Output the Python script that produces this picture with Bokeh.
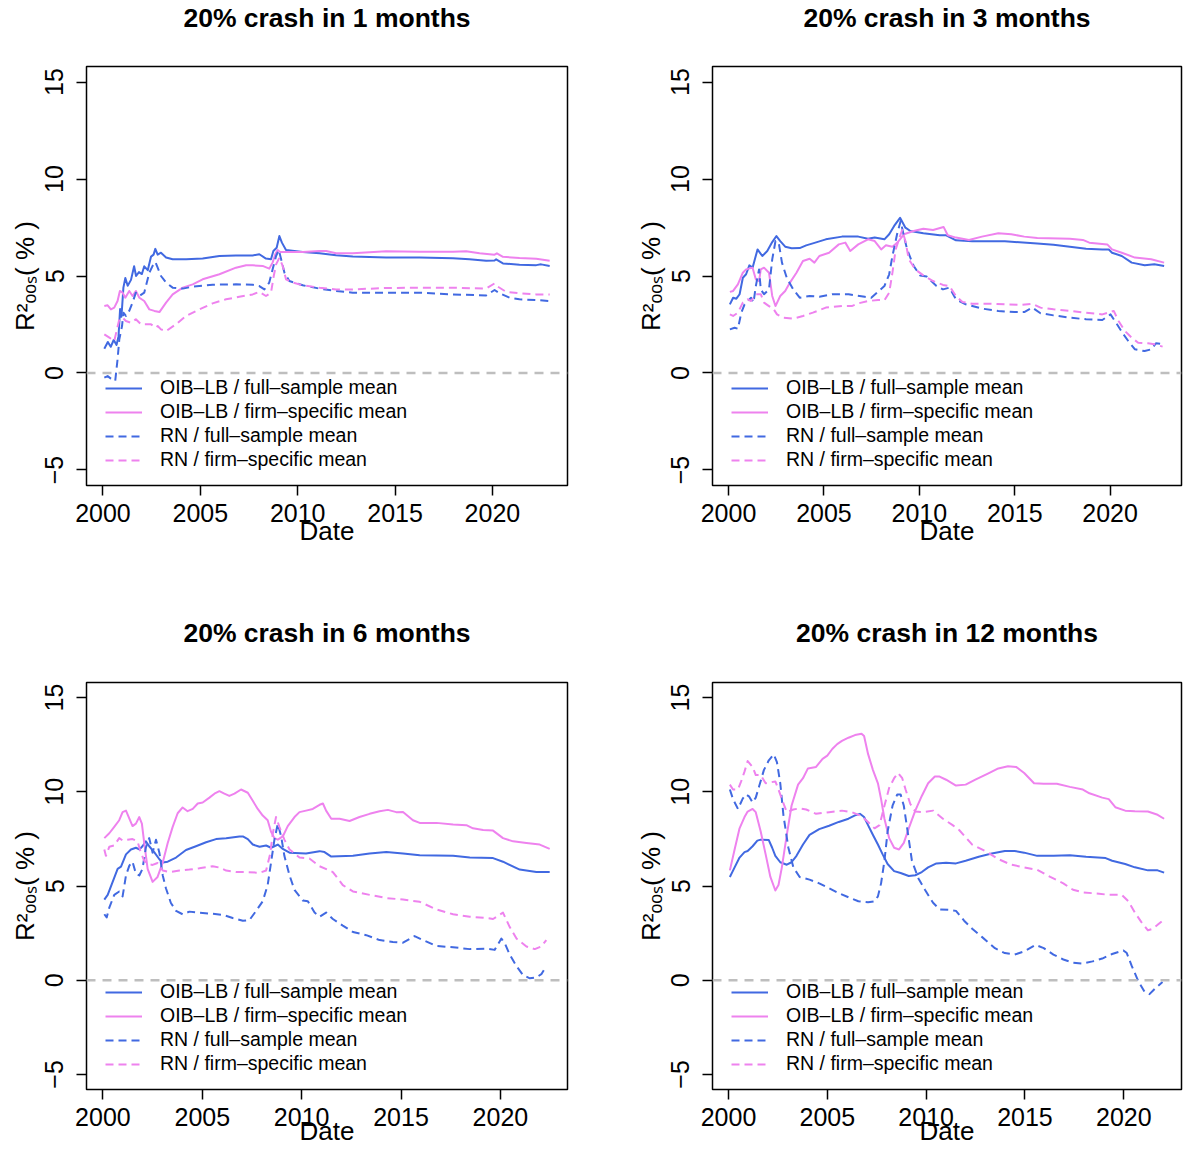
import numpy as np
from bokeh.plotting import figure
from bokeh.models import Range1d, FixedTicker, Span, Legend, LegendItem, Title
from bokeh.layouts import column, row
from bokeh.embed import file_html
from bokeh.resources import INLINE

BLUE = "#4169E1"
PINK = "#EE82EE"
FONT = "Liberation Sans"

titles = ["20% crash in 1 months", "20% crash in 3 months",
          "20% crash in 6 months", "20% crash in 12 months"]
legend_labels = ["OIB\u2013LB / full\u2013sample mean", "OIB\u2013LB / firm\u2013specific mean",
                 "RN / full\u2013sample mean", "RN / firm\u2013specific mean"]
x_label = "Date"
y_label = "R\u00b2\u2092\u2092\u209b( % )"
x_ticks = [2000, 2005, 2010, 2015, 2020]
y_ticks = [-5, 0, 5, 10, 15]
y_limits = [-5, 15]

# ---------------- 1 month ----------------
m1_oib_full = [(2000.07,1.25),(2000.25,1.6),(2000.4,1.35),(2000.55,1.7),(2000.7,1.45),(2000.8,1.9),(2000.88,3.3),(2000.95,2.9),(2001.05,4.4),(2001.15,4.9),(2001.27,4.5),(2001.44,4.8),(2001.6,5.5),(2001.7,5.0),(2001.85,5.2),(2002.0,5.1),(2002.12,5.5),(2002.3,5.3),(2002.47,6.0),(2002.6,6.1),(2002.69,6.4),(2002.81,6.1),(2002.98,6.2),(2003.24,5.95),(2003.58,5.86),(2004.27,5.86),(2005.12,5.9),(2005.98,6.03),(2006.83,6.06),(2007.69,6.06),(2008.03,6.12),(2008.37,5.9),(2008.63,5.86),(2008.75,6.29),(2008.92,6.46),(2009.06,7.06),(2009.19,6.72),(2009.4,6.34),(2010.26,6.24),(2011.12,6.17),(2011.97,6.07),(2012.83,6.0),(2014.54,5.95),(2016.25,5.95),(2017.97,5.91),(2018.82,5.86),(2019.68,5.79),(2020.11,5.8),(2020.19,5.86),(2020.54,5.65),(2021.39,5.58),(2022.25,5.56),(2022.5,5.6),(2022.94,5.52)]
m1_oib_firm = [(2000.07,3.45),(2000.24,3.49),(2000.41,3.28),(2000.58,3.37),(2000.75,3.71),(2000.87,4.23),(2001.01,4.14),(2001.15,3.88),(2001.35,4.23),(2001.52,3.97),(2001.69,4.23),(2001.87,3.88),(2002.12,3.71),(2002.38,3.28),(2002.64,3.20),(2002.9,3.14),(2003.24,3.63),(2003.58,4.05),(2004.1,4.40),(2004.61,4.57),(2005.12,4.83),(2005.98,5.09),(2006.83,5.43),(2007.35,5.55),(2007.69,5.55),(2008.2,5.52),(2008.54,5.38),(2008.71,5.69),(2008.85,6.12),(2008.97,6.34),(2009.1,6.24),(2009.23,6.24),(2010.26,6.24),(2011.12,6.29),(2011.46,6.29),(2011.97,6.17),(2012.83,6.17),(2014.54,6.27),(2016.25,6.25),(2017.97,6.25),(2018.65,6.27),(2019.34,6.17),(2020.11,6.10),(2020.23,6.17),(2020.54,5.99),(2021.39,5.93),(2022.25,5.89),(2022.94,5.79)]
m1_rn_full = [(2000.07,-0.24),(2000.24,-0.16),(2000.41,-0.29),(2000.63,-0.41),(2000.75,0.70),(2000.84,1.74),(2000.98,2.42),(2001.05,3.11),(2001.18,2.94),(2001.35,3.20),(2001.52,3.63),(2001.69,4.14),(2001.87,3.97),(2002.12,4.14),(2002.38,5.17),(2002.55,5.52),(2002.69,5.72),(2002.81,5.43),(2002.98,5.0),(2003.24,4.66),(2003.58,4.40),(2004.1,4.35),(2004.61,4.45),(2005.63,4.55),(2006.83,4.57),(2007.69,4.55),(2008.03,4.48),(2008.29,4.31),(2008.54,4.66),(2008.71,5.34),(2008.89,6.03),(2009.03,6.34),(2009.15,5.86),(2009.32,5.17),(2009.57,4.74),(2010.26,4.52),(2011.12,4.35),(2011.97,4.23),(2012.83,4.14),(2014.54,4.14),(2016.25,4.14),(2017.97,4.05),(2019.68,4.0),(2020.11,4.28),(2020.37,4.11),(2020.88,3.88),(2021.39,3.80),(2022.25,3.76),(2022.94,3.71)]
m1_rn_firm = [(2000.07,1.99),(2000.33,1.82),(2000.58,1.65),(2000.84,2.77),(2001.01,2.85),(2001.18,2.68),(2001.44,2.59),(2001.69,2.77),(2001.95,2.51),(2002.21,2.51),(2002.47,2.51),(2002.72,2.34),(2002.81,2.42),(2002.98,2.25),(2003.24,2.16),(2003.75,2.51),(2004.27,2.94),(2004.95,3.28),(2005.63,3.59),(2006.32,3.80),(2007.0,3.93),(2007.69,4.05),(2008.03,4.18),(2008.37,3.97),(2008.63,4.14),(2008.77,5.0),(2008.89,5.6),(2009.06,5.94),(2009.23,5.52),(2009.4,4.83),(2009.75,4.66),(2010.26,4.52),(2011.12,4.40),(2011.97,4.31),(2012.83,4.31),(2014.54,4.38),(2016.25,4.40),(2017.97,4.40),(2019.68,4.35),(2020.11,4.62),(2020.28,4.45),(2020.71,4.18),(2021.39,4.11),(2022.25,4.05),(2022.94,4.04)]

# ---------------- 3 months ----------------
m3_oib_full = [(2000.07,3.54),(2000.24,3.88),(2000.41,3.83),(2000.58,4.06),(2000.75,4.91),(2000.92,5.09),(2001.09,5.55),(2001.26,5.43),(2001.52,6.37),(2001.77,6.03),(2002.03,6.29),(2002.29,6.75),(2002.51,7.06),(2002.71,6.80),(2002.97,6.51),(2003.31,6.43),(2003.73,6.44),(2004.07,6.58),(2004.42,6.68),(2005.1,6.89),(2005.95,7.03),(2006.8,7.03),(2007.31,6.92),(2007.66,6.98),(2008.17,6.89),(2008.42,7.15),(2008.68,7.58),(2008.99,8.0),(2009.27,7.49),(2009.53,7.32),(2010.21,7.20),(2011.07,7.10),(2011.41,7.10),(2011.92,6.84),(2012.77,6.79),(2014.48,6.79),(2016.18,6.68),(2017.03,6.61),(2017.89,6.51),(2018.74,6.41),(2019.59,6.37),(2019.93,6.37),(2020.1,6.20),(2020.61,6.03),(2021.13,5.69),(2021.81,5.55),(2022.32,5.60),(2022.83,5.52)]
m3_oib_firm = [(2000.07,4.18),(2000.24,4.23),(2000.49,4.57),(2000.75,5.17),(2000.92,5.34),(2001.26,5.43),(2001.43,4.83),(2001.6,4.74),(2001.69,5.34),(2001.86,5.43),(2002.12,5.17),(2002.29,3.97),(2002.46,3.45),(2002.71,3.97),(2002.97,4.23),(2003.22,4.66),(2003.56,5.17),(2003.9,5.77),(2004.25,5.89),(2004.5,5.69),(2004.76,6.03),(2005.27,6.20),(2005.78,6.63),(2006.12,6.72),(2006.38,6.29),(2006.8,6.63),(2007.31,6.89),(2007.66,6.80),(2008.0,6.37),(2008.25,6.58),(2008.59,6.51),(2008.85,6.72),(2009.19,7.15),(2009.7,7.32),(2010.21,7.44),(2010.72,7.37),(2011.27,7.53),(2011.49,7.10),(2011.92,6.98),(2012.6,6.86),(2013.28,7.03),(2014.14,7.20),(2014.82,7.15),(2015.5,7.03),(2016.18,6.96),(2017.89,6.92),(2018.57,6.86),(2018.91,6.72),(2019.85,6.63),(2020.1,6.37),(2020.61,6.20),(2021.3,5.95),(2022.15,5.86),(2022.83,5.69)]
m3_rn_full = [(2000.07,2.25),(2000.32,2.33),(2000.49,2.28),(2000.67,3.11),(2000.84,3.54),(2001.01,3.71),(2001.18,3.88),(2001.31,3.63),(2001.43,4.48),(2001.6,5.34),(2001.69,4.31),(2001.86,4.06),(2002.12,4.31),(2002.29,5.86),(2002.46,6.80),(2002.63,6.72),(2002.8,5.69),(2003.05,4.91),(2003.39,4.31),(2003.73,3.88),(2004.25,3.97),(2004.76,3.93),(2005.44,4.06),(2006.29,4.06),(2007.14,3.93),(2007.48,3.88),(2007.83,4.18),(2008.17,4.48),(2008.42,5.09),(2008.59,6.03),(2008.85,7.23),(2009.02,7.83),(2009.19,7.06),(2009.36,6.37),(2009.7,5.52),(2010.04,5.03),(2010.38,4.97),(2010.9,4.48),(2011.24,4.31),(2011.58,4.40),(2011.92,3.80),(2012.43,3.54),(2013.28,3.32),(2014.14,3.20),(2014.99,3.14),(2015.5,3.14),(2015.92,3.37),(2016.35,3.08),(2017.03,2.97),(2017.89,2.85),(2018.74,2.77),(2019.59,2.73),(2020.02,3.02),(2020.36,2.51),(2020.7,1.99),(2020.95,1.65),(2021.3,1.22),(2021.81,1.13),(2022.15,1.22),(2022.4,1.53),(2022.83,1.48)]
m3_rn_firm = [(2000.07,3.02),(2000.24,2.94),(2000.49,3.11),(2000.75,3.63),(2001.01,3.80),(2001.18,3.71),(2001.43,4.06),(2001.69,4.06),(2001.86,3.63),(2002.12,3.45),(2002.37,3.28),(2002.54,3.02),(2002.88,2.85),(2003.39,2.80),(2003.9,2.94),(2004.42,3.11),(2005.1,3.37),(2005.95,3.45),(2006.46,3.45),(2006.8,3.59),(2007.31,3.71),(2007.83,3.76),(2008.17,3.75),(2008.42,4.14),(2008.59,5.17),(2008.76,6.37),(2008.93,6.89),(2009.1,7.37),(2009.27,6.80),(2009.45,5.86),(2009.79,5.34),(2010.21,5.03),(2010.72,4.74),(2011.24,4.54),(2011.58,4.48),(2011.92,3.97),(2012.26,3.66),(2012.77,3.57),(2013.62,3.57),(2014.48,3.54),(2015.33,3.51),(2015.92,3.57),(2016.35,3.37),(2017.03,3.28),(2017.89,3.20),(2018.74,3.11),(2019.59,3.02),(2020.19,3.20),(2020.44,2.68),(2020.78,2.16),(2021.13,1.82),(2021.47,1.56),(2021.98,1.53),(2022.32,1.48),(2022.75,1.36)]

# ---------------- 6 months ----------------
m6_oib_full = [(2000.07,4.28),(2000.24,4.53),(2000.49,5.22),(2000.74,5.91),(2000.91,6.03),(2001.16,6.68),(2001.41,6.94),(2001.66,7.03),(2001.83,6.94),(2001.99,7.11),(2002.16,7.37),(2002.33,7.11),(2002.58,6.80),(2002.84,6.42),(2003.01,6.25),(2003.26,6.29),(2003.68,6.51),(2004.18,6.91),(2004.68,7.11),(2005.19,7.32),(2005.69,7.49),(2006.2,7.54),(2006.87,7.63),(2007.04,7.63),(2007.29,7.49),(2007.54,7.20),(2007.88,7.08),(2008.21,7.15),(2008.46,7.03),(2008.63,7.11),(2008.8,7.20),(2009.05,6.97),(2009.39,6.77),(2010.22,6.73),(2010.9,6.85),(2011.15,6.80),(2011.49,6.56),(2012.58,6.60),(2013.42,6.73),(2014.26,6.80),(2015.1,6.73),(2015.94,6.63),(2017.62,6.60),(2018.46,6.51),(2019.63,6.48),(2020.13,6.29),(2020.97,5.87),(2021.81,5.74),(2022.48,5.74)]
m6_oib_firm = [(2000.07,7.54),(2000.32,7.80),(2000.57,8.14),(2000.82,8.49),(2000.99,8.92),(2001.16,9.0),(2001.33,8.57),(2001.49,8.18),(2001.66,8.31),(2001.83,8.66),(2001.96,8.31),(2002.08,7.28),(2002.25,5.91),(2002.5,5.22),(2002.75,5.48),(2003.01,6.25),(2003.26,7.28),(2003.51,8.14),(2003.76,8.86),(2004.01,9.17),(2004.26,8.97),(2004.52,9.09),(2004.77,9.38),(2005.02,9.43),(2005.36,9.69),(2005.61,9.90),(2005.86,10.03),(2006.11,9.90),(2006.36,9.78),(2006.62,9.90),(2006.95,10.12),(2007.29,9.95),(2007.54,9.52),(2007.79,9.09),(2008.04,8.74),(2008.29,8.49),(2008.46,7.88),(2008.63,7.54),(2008.8,7.46),(2009.05,7.63),(2009.3,8.18),(2009.64,8.66),(2009.89,8.92),(2010.22,9.0),(2010.56,9.09),(2010.9,9.31),(2011.07,9.38),(2011.23,9.0),(2011.49,8.57),(2011.91,8.57),(2012.41,8.45),(2012.91,8.66),(2013.42,8.83),(2013.92,8.97),(2014.34,9.04),(2014.76,8.92),(2015.1,8.93),(2015.6,8.49),(2015.94,8.35),(2016.78,8.35),(2017.62,8.26),(2018.29,8.23),(2018.62,8.06),(2019.13,7.97),(2019.63,7.94),(2020.13,7.54),(2020.64,7.37),(2021.31,7.28),(2021.98,7.20),(2022.48,6.97)]
m6_rn_full = [(2000.07,3.50),(2000.19,3.33),(2000.32,3.85),(2000.57,4.53),(2000.82,4.71),(2000.99,4.45),(2001.16,5.56),(2001.33,6.08),(2001.49,6.29),(2001.66,5.65),(2001.83,5.56),(2001.99,5.91),(2002.16,7.03),(2002.33,7.54),(2002.5,6.77),(2002.67,7.46),(2002.84,6.77),(2003.01,5.56),(2003.17,4.88),(2003.42,4.10),(2003.68,3.68),(2004.01,3.50),(2004.35,3.64),(2004.77,3.59),(2005.36,3.54),(2006.03,3.47),(2006.53,3.30),(2007.04,3.16),(2007.37,3.19),(2007.71,3.68),(2008.04,4.19),(2008.29,5.05),(2008.46,6.25),(2008.63,7.46),(2008.8,8.31),(2008.97,7.63),(2009.13,6.60),(2009.39,5.56),(2009.64,4.79),(2010.06,4.23),(2010.31,4.19),(2010.65,3.59),(2010.9,3.37),(2011.23,3.59),(2011.57,3.25),(2012.07,2.90),(2012.58,2.56),(2013.25,2.39),(2013.92,2.13),(2014.59,2.03),(2015.1,1.99),(2015.68,2.34),(2016.11,2.13),(2016.78,1.82),(2017.62,1.75),(2018.46,1.65),(2019.29,1.68),(2019.71,1.61),(2020.05,2.21),(2020.22,1.96),(2020.47,1.36),(2020.81,0.75),(2021.14,0.27),(2021.48,0.10),(2021.81,0.15),(2022.06,0.32),(2022.31,0.75)]
m6_rn_firm = [(2000.07,6.94),(2000.15,6.60),(2000.32,7.08),(2000.57,7.15),(2000.82,7.54),(2000.99,7.42),(2001.24,7.46),(2001.49,7.49),(2001.74,7.37),(2001.91,6.77),(2002.08,6.34),(2002.25,6.17),(2002.5,6.12),(2002.75,6.22),(2003.01,5.82),(2003.34,5.74),(2003.85,5.82),(2004.35,5.87),(2004.85,5.94),(2005.52,6.05),(2005.86,5.98),(2006.2,5.82),(2006.7,5.74),(2007.2,5.74),(2007.88,5.70),(2008.21,5.82),(2008.41,6.68),(2008.55,7.80),(2008.71,8.66),(2008.88,8.14),(2009.13,7.46),(2009.39,6.94),(2009.89,6.51),(2010.39,6.46),(2010.9,6.05),(2011.57,5.74),(2012.07,5.05),(2012.58,4.71),(2013.42,4.53),(2014.26,4.36),(2015.1,4.28),(2015.94,4.16),(2016.78,3.76),(2017.62,3.50),(2018.46,3.37),(2019.29,3.30),(2019.63,3.25),(2020.13,3.59),(2020.47,2.82),(2020.81,2.21),(2021.31,1.79),(2021.73,1.65),(2022.06,1.79),(2022.31,2.13)]

# ---------------- 12 months ----------------
m12_oib_full = [(2000.07,5.48),(2000.31,5.99),(2000.56,6.51),(2000.81,6.80),(2000.97,6.86),(2001.22,7.11),(2001.46,7.41),(2001.63,7.46),(2002.04,7.44),(2002.21,7.03),(2002.37,6.60),(2002.62,6.26),(2002.95,6.13),(2003.19,6.26),(2003.44,6.60),(2003.77,7.20),(2004.1,7.71),(2004.59,8.02),(2005.09,8.20),(2005.58,8.40),(2006.07,8.57),(2006.4,8.75),(2006.65,8.83),(2006.86,8.66),(2007.06,8.23),(2007.31,7.71),(2007.56,7.20),(2007.8,6.68),(2008.05,6.17),(2008.38,5.79),(2008.71,5.69),(2009.12,5.53),(2009.45,5.57),(2009.78,5.74),(2010.1,5.99),(2010.52,6.20),(2011.01,6.24),(2011.51,6.20),(2012.0,6.34),(2012.66,6.55),(2013.32,6.72),(2013.98,6.86),(2014.47,6.86),(2014.96,6.77),(2015.62,6.60),(2016.44,6.60),(2017.27,6.63),(2018.09,6.55),(2019.08,6.48),(2019.41,6.34),(2020.07,6.17),(2020.56,5.99),(2021.22,5.83),(2021.71,5.83),(2022.04,5.71)]
m12_oib_firm = [(2000.07,5.83),(2000.31,6.94),(2000.56,8.06),(2000.81,8.66),(2000.97,8.95),(2001.22,9.09),(2001.38,8.92),(2001.63,7.89),(2001.88,6.68),(2002.12,5.48),(2002.37,4.76),(2002.53,5.05),(2002.7,5.99),(2002.95,7.71),(2003.19,9.26),(2003.52,10.38),(2003.77,10.72),(2004.02,11.24),(2004.43,11.32),(2004.76,11.75),(2005.0,11.92),(2005.25,12.27),(2005.5,12.53),(2005.74,12.70),(2006.07,12.87),(2006.4,13.01),(2006.73,13.08),(2006.86,12.96),(2007.06,12.01),(2007.31,11.15),(2007.56,10.45),(2007.72,9.61),(2007.89,8.57),(2008.13,7.54),(2008.38,7.03),(2008.63,6.94),(2008.87,7.29),(2009.12,8.06),(2009.45,9.0),(2009.78,9.78),(2010.1,10.45),(2010.44,10.81),(2010.68,10.81),(2011.01,10.64),(2011.51,10.33),(2012.0,10.38),(2012.49,10.64),(2013.15,10.98),(2013.65,11.24),(2014.14,11.36),(2014.55,11.32),(2014.96,11.0),(2015.46,10.45),(2015.95,10.43),(2016.61,10.43),(2017.27,10.26),(2017.93,10.12),(2018.26,9.92),(2018.91,9.69),(2019.24,9.61),(2019.57,9.18),(2020.07,9.0),(2020.56,8.97),(2021.22,8.95),(2021.71,8.78),(2022.04,8.57)]
m12_rn_full = [(2000.07,10.12),(2000.23,9.61),(2000.48,9.09),(2000.72,9.64),(2000.89,9.86),(2001.05,9.74),(2001.22,9.43),(2001.38,9.69),(2001.55,10.29),(2001.79,11.15),(2002.04,11.67),(2002.29,11.98),(2002.45,11.58),(2002.62,10.45),(2002.78,8.75),(2003.03,7.03),(2003.28,5.99),(2003.6,5.48),(2004.1,5.34),(2004.59,5.14),(2005.09,4.88),(2005.58,4.62),(2006.07,4.40),(2006.57,4.19),(2007.06,4.14),(2007.39,4.19),(2007.56,4.45),(2007.72,5.14),(2007.89,6.34),(2008.05,7.89),(2008.3,9.26),(2008.54,9.86),(2008.71,9.86),(2008.87,9.26),(2009.04,8.06),(2009.28,6.34),(2009.61,5.40),(2009.94,4.80),(2010.35,4.11),(2010.68,3.76),(2011.18,3.73),(2011.51,3.68),(2011.92,3.16),(2012.33,2.73),(2012.82,2.30),(2013.48,1.70),(2013.98,1.44),(2014.47,1.36),(2014.96,1.53),(2015.54,1.87),(2015.95,1.70),(2016.44,1.36),(2016.94,1.10),(2017.43,0.93),(2017.93,0.88),(2018.42,1.0),(2018.91,1.15),(2019.41,1.39),(2019.98,1.58),(2020.15,1.44),(2020.4,0.76),(2020.72,-0.02),(2021.05,-0.62),(2021.3,-0.74),(2021.63,-0.39),(2021.96,-0.10)]
m12_rn_firm = [(2000.07,10.38),(2000.23,10.12),(2000.48,10.12),(2000.64,10.55),(2000.81,11.07),(2000.97,11.63),(2001.22,11.32),(2001.38,10.89),(2001.63,10.89),(2001.88,10.45),(2002.12,10.50),(2002.37,10.55),(2002.53,10.12),(2002.7,9.61),(2002.95,8.92),(2003.28,9.06),(2003.6,9.12),(2003.93,9.06),(2004.43,8.83),(2005.09,8.92),(2005.74,9.0),(2006.24,8.92),(2006.73,8.71),(2007.06,8.40),(2007.39,8.06),(2007.64,8.23),(2007.89,9.26),(2008.13,10.21),(2008.38,10.72),(2008.58,11.0),(2008.79,10.72),(2008.96,10.12),(2009.2,9.35),(2009.45,8.95),(2009.86,8.92),(2010.35,9.0),(2010.85,8.57),(2011.34,8.23),(2011.67,7.97),(2012.33,7.20),(2012.99,6.86),(2013.65,6.43),(2014.3,6.13),(2014.96,5.99),(2015.62,5.86),(2016.28,5.48),(2016.94,5.14),(2017.43,4.80),(2017.93,4.66),(2018.75,4.59),(2019.24,4.53),(2019.9,4.53),(2020.23,4.19),(2020.56,3.59),(2020.89,3.08),(2021.22,2.65),(2021.46,2.73),(2021.71,2.94),(2021.96,3.16)]

panels = [
    (titles[0], [m1_oib_full, m1_oib_firm, m1_rn_full, m1_rn_firm]),
    (titles[1], [m3_oib_full, m3_oib_firm, m3_rn_full, m3_rn_firm]),
    (titles[2], [m6_oib_full, m6_oib_firm, m6_rn_full, m6_rn_firm]),
    (titles[3], [m12_oib_full, m12_oib_firm, m12_rn_full, m12_rn_firm]),
]
styles = [(BLUE, "solid"), (PINK, "solid"), (BLUE, "8 5"), (PINK, "8 5")]


def make_panel(title, series, fw, fh, left, right, top, bottom, spacer, date_standoff):
    xs_all = [pt[0] for s in series for pt in s]
    xmin, xmax = min(xs_all), max(xs_all)
    xpad = 0.04 * (xmax - xmin)
    ypad = 0.04 * (y_limits[1] - y_limits[0])
    x0, x1 = xmin - xpad, xmax + xpad
    y0, y1 = y_limits[0] - ypad, y_limits[1] + ypad
    p = figure(frame_width=fw, frame_height=fh,
               x_range=Range1d(x0, x1), y_range=Range1d(y0, y1),
               output_backend="svg", toolbar_location=None,
               min_border_left=left, min_border_right=right,
               min_border_top=top, min_border_bottom=bottom)
    p.grid.visible = False
    p.outline_line_color = "black"
    p.outline_line_width = 1.5
    p.outline_line_alpha = 1.0
    p.background_fill_color = "white"
    p.border_fill_color = "white"

    # spacer between the frame and the title (pushes the title upward)
    p.add_layout(Title(text=" ", text_font_size="1px", standoff=spacer), "above")
    p.title.text = title
    p.title.align = "center"
    p.title.text_font = FONT
    p.title.text_font_style = "bold"
    p.title.text_font_size = "26.5px"
    p.title.text_color = "black"
    p.title.standoff = 0

    for ax, ticks in ((p.xaxis, x_ticks), (p.yaxis, y_ticks)):
        ax.ticker = FixedTicker(ticks=ticks)
        ax.axis_line_color = None
        ax.major_tick_out = 10
        ax.major_tick_in = 0
        ax.minor_tick_out = 0
        ax.minor_tick_in = 0
        ax.major_tick_line_color = "black"
        ax.major_tick_line_width = 1.5
        ax.major_label_text_font = FONT
        ax.major_label_text_font_size = "25px"
        ax.major_label_text_color = "black"
        ax.axis_label_text_font = FONT
        ax.axis_label_text_font_size = "26px"
        ax.axis_label_text_font_style = "normal"
        ax.axis_label_text_color = "black"
    p.xaxis.major_label_standoff = 8
    p.yaxis.major_label_standoff = 13
    p.yaxis.major_label_orientation = "vertical"
    p.yaxis.major_label_overrides = {-5: "\u22125"}
    p.xaxis.axis_label = x_label
    p.xaxis.axis_label_standoff = date_standoff
    p.yaxis.axis_label = y_label
    p.yaxis.axis_label_standoff = 3

    p.add_layout(Span(location=0, dimension="width", line_color="#BEBEBE",
                      line_dash="9 7", line_width=2.5))

    items = []
    for s, (color, dash), lab in zip(series, styles, legend_labels):
        xs = [pt[0] for pt in s]
        ys = [pt[1] for pt in s]
        r = p.line(xs, ys, line_color=color, line_width=2, line_dash=dash,
                   line_join="round")
        items.append(LegendItem(label=lab, renderers=[r]))

    legend = Legend(items=items, location=(19, 14), orientation="vertical",
                    border_line_color=None, background_fill_alpha=0,
                    padding=0, margin=0, spacing=1, glyph_width=37,
                    glyph_height=20, label_height=20, label_standoff=18,
                    label_text_font=FONT, label_text_font_size="19.5px",
                    label_text_color="black")
    p.add_layout(legend)
    return p


p1 = make_panel(*panels[0], fw=481, fh=419, left=86, right=33, top=66, bottom=115, spacer=31, date_standoff=-9)
p2 = make_panel(*panels[1], fw=469, fh=419, left=112, right=2, top=66, bottom=115, spacer=31, date_standoff=-9)
p3 = make_panel(*panels[2], fw=481, fh=407, left=86, right=33, top=82, bottom=56, spacer=32, date_standoff=-13)
p4 = make_panel(*panels[3], fw=469, fh=407, left=112, right=2, top=82, bottom=56, spacer=32, date_standoff=-13)

layout = column(row(p1, p2), row(p3, p4))

with open("out.html", "w") as f:
    f.write(file_html(layout, INLINE, title="R2 oos"))
